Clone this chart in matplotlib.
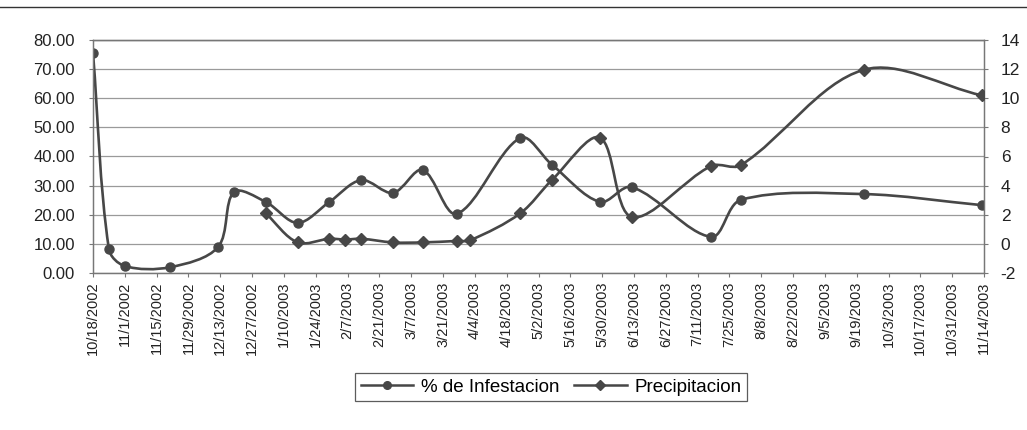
import matplotlib
matplotlib.use("Agg")
import matplotlib.pyplot as plt
import matplotlib.dates as mdates
from matplotlib.path import Path
from matplotlib.patches import PathPatch
from matplotlib.lines import Line2D
import numpy as np
import datetime as dt

plt.rcParams['font.family'] = ['Liberation Sans', 'DejaVu Sans']

# ---------------- data ----------------
infest_dates = ['2002-10-18', '2002-10-25', '2002-11-01', '2002-11-21', '2002-12-12',
                '2002-12-19', '2003-01-02', '2003-01-16', '2003-01-30', '2003-02-13',
                '2003-02-27', '2003-03-12', '2003-03-27', '2003-04-24', '2003-05-08',
                '2003-05-29', '2003-06-12', '2003-07-17', '2003-07-30', '2003-09-22',
                '2003-11-13']
infestacion = [75.5, 8.2, 2.4, 2.0, 8.9,
               27.8, 24.4, 17.2, 24.4, 31.9,
               27.5, 35.4, 20.3, 46.4, 37.1,
               24.4, 29.5, 12.4, 25.1, 27.1,
               23.3]

precip_dates = ['2003-01-02', '2003-01-16', '2003-01-30', '2003-02-06', '2003-02-13',
                '2003-02-27', '2003-03-12', '2003-03-27', '2003-04-02', '2003-04-24',
                '2003-05-08', '2003-05-29', '2003-06-12', '2003-07-17', '2003-07-30',
                '2003-09-22', '2003-11-13']
precipitacion = [2.1, 0.1, 0.35, 0.3, 0.35,
                 0.1, 0.1, 0.2, 0.25, 2.1,
                 4.4, 7.3, 1.85, 5.35, 5.4,
                 11.95, 10.2]

start_date = '2002-10-18'
end_date = '2003-11-14'
tick_step_days = 14
left_ticks = [0, 10, 20, 30, 40, 50, 60, 70, 80]
right_ticks = [-2, 0, 2, 4, 6, 8, 10, 12, 14]
legend_labels = ['% de Infestacion', 'Precipitacion']

# ---------------- helpers ----------------
def to_num(ds):
    return np.array([mdates.date2num(dt.datetime.strptime(d, '%Y-%m-%d')) for d in ds])

def smooth_path(xs, ys, sx, sy, t=1.0 / 3.0):
    """Bezier smoothing with tangents computed in screen space (Excel-like)."""
    P = np.column_stack([np.asarray(xs, float) * sx, np.asarray(ys, float) * sy])
    n = len(P)
    out_c = [None] * n
    in_c = [None] * n
    for i in range(n):
        pp = P[i - 1] if i > 0 else P[i]
        pn = P[i + 1] if i < n - 1 else P[i]
        d = pn - pp
        lin = np.hypot(*(P[i] - pp))
        lout = np.hypot(*(pn - P[i]))
        tot = lin + lout if (lin + lout) > 0 else 1.0
        out_c[i] = P[i] + d * t * lout / tot
        in_c[i] = P[i] - d * t * lin / tot
    verts = [P[0]]
    codes = [Path.MOVETO]
    for i in range(n - 1):
        verts += [out_c[i], in_c[i + 1], P[i + 1]]
        codes += [Path.CURVE4] * 3
    V = np.array(verts)
    V[:, 0] /= sx
    V[:, 1] /= sy
    return Path(V, codes)

line_color = '#474747'
grid_color = '#9a9a9a'

fig = plt.figure(figsize=(10.27, 4.30), dpi=100)
ax_w_px, ax_h_px = 984 - 93, 273 - 40
ax = fig.add_axes([93 / 1027, 1 - 273 / 430, ax_w_px / 1027, ax_h_px / 430])
ax2 = ax.twinx()

xi = to_num(infest_dates)
xp = to_num(precip_dates)

x0 = to_num([start_date])[0]
x1 = to_num([end_date])[0]

ax.set_xlim(x0, x1)
ax.set_ylim(left_ticks[0], left_ticks[-1])
ax2.set_ylim(right_ticks[0], right_ticks[-1])

sx = ax_w_px / (x1 - x0)
sy_left = ax_h_px / (left_ticks[-1] - left_ticks[0])
sy_right = ax_h_px / (right_ticks[-1] - right_ticks[0])

# grid
for v in left_ticks:
    ax.axhline(v, color=grid_color, lw=0.9, zorder=1)

# series 1
ax.add_patch(PathPatch(smooth_path(xi, infestacion, sx, sy_left), facecolor='none',
                       edgecolor=line_color, lw=1.9, zorder=3))
ax.plot(xi, infestacion, ls='none', marker='o', ms=6.5, color=line_color, zorder=4)

# series 2
ax2.add_patch(PathPatch(smooth_path(xp, precipitacion, sx, sy_right), facecolor='none',
                        edgecolor=line_color, lw=1.9, zorder=3))
ax2.plot(xp, precipitacion, ls='none', marker='D', ms=6.5, color=line_color, zorder=4)

# ticks
ticks = np.arange(x0, x1 + 0.5, tick_step_days)
ax.set_xticks(ticks)
labels = []
for tk in ticks:
    d = mdates.num2date(tk)
    labels.append(f"{d.month}/{d.day}/{d.year}")
ax.set_xticklabels(labels, rotation=90, fontsize=10.5, color='#222222')

ax.set_yticks(left_ticks)
ax.set_yticklabels([f"{v:.2f}" for v in left_ticks], fontsize=12, color='#222222')
ax2.set_yticks(right_ticks)
ax2.set_yticklabels([str(v) for v in right_ticks], fontsize=12.5, color='#222222')

ax.tick_params(axis='x', length=3, color='#777777', pad=3)
ax.tick_params(axis='y', length=3, color='#777777', pad=10)
ax2.tick_params(axis='y', length=3, color='#777777', pad=9)

for a in (ax, ax2):
    for s in a.spines.values():
        s.set_color('#777777')
        s.set_linewidth(0.9)
ax.spines['top'].set_color('#222222')

# legend
handles = [Line2D([], [], color=line_color, lw=1.8, marker='o', ms=5.5),
           Line2D([], [], color=line_color, lw=1.8, marker='D', ms=5)]
leg = fig.legend(handles, legend_labels, loc='center', bbox_to_anchor=(551 / 1027, 1 - 387 / 430),
                 ncol=2, frameon=True, fontsize=13.5, handlelength=2.8, handletextpad=0.4,
                 columnspacing=0.8, borderpad=0.3, fancybox=False)
leg.get_frame().set_edgecolor('#333333')
leg.get_frame().set_linewidth(0.9)

# chart area top border
fig.add_artist(Line2D([0, 1], [1 - 7 / 430, 1 - 7 / 430], color='#333333', lw=1.0))

fig.savefig('out.png', dpi=100)
